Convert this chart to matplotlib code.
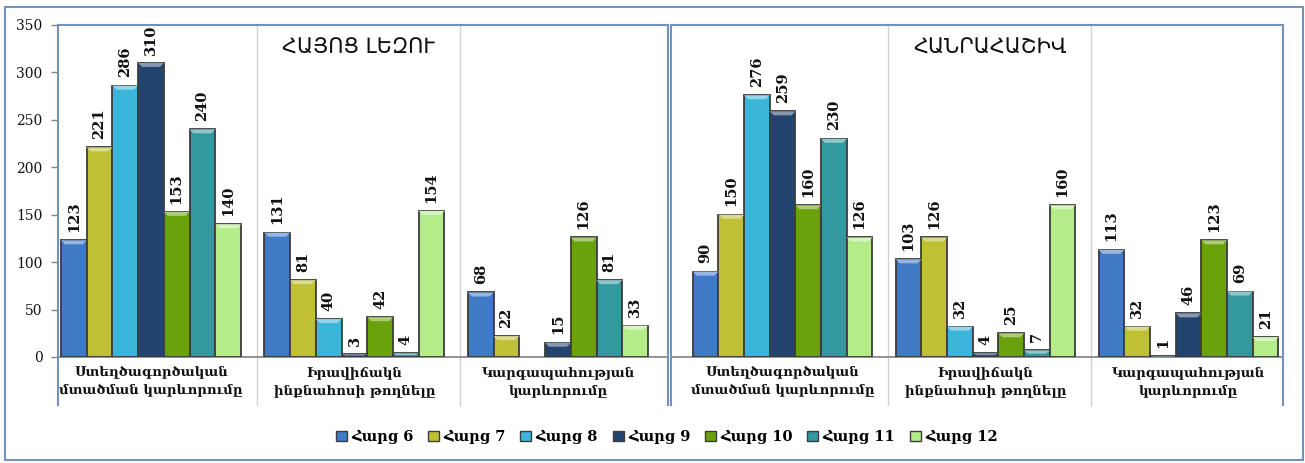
import numpy as np
import matplotlib
matplotlib.use("Agg")
import matplotlib.pyplot as plt
from matplotlib.patches import Rectangle, Polygon
from matplotlib.colors import to_rgb

W, H = 1305, 463

categories = ['Ստեղծագործական\nմտածման կարևորումը',
              'Իրավիճակն\nինքնահոսի թողնելը',
              'Կարգապահության\nկարևորումը']
series_names = ['Հարց 6', 'Հարց 7', 'Հարց 8', 'Հարց 9', 'Հարց 10', 'Հարց 11', 'Հարց 12']
colors = ['#4079c6', '#c0c034', '#3bb5da', '#22446f', '#6aa20c', '#33989f', '#b5ec8a']

panel_titles = ['ՀԱՅՈՑ ԼԵԶՈՒ', 'ՀԱՆՐԱՀԱՇԻՎ']

# Panel 1: ՀԱՅՈՑ ԼԵԶՈՒ
lang_q6 = [123, 131, 68]
lang_q7 = [221, 81, 22]
lang_q8 = [286, 40, np.nan]
lang_q9 = [310, 3, 15]
lang_q10 = [153, 42, 126]
lang_q11 = [240, 4, 81]
lang_q12 = [140, 154, 33]

# Panel 2: ՀԱՆՐԱՀԱՇԻՎ
math_q6 = [90, 103, 113]
math_q7 = [150, 126, 32]
math_q8 = [276, 32, 1]
math_q9 = [259, 4, 46]
math_q10 = [160, 25, 123]
math_q11 = [230, 7, 69]
math_q12 = [126, 160, 21]

yticks = [0, 50, 100, 150, 200, 250, 300, 350]

panels = [
    [lang_q6, lang_q7, lang_q8, lang_q9, lang_q10, lang_q11, lang_q12],
    [math_q6, math_q7, math_q8, math_q9, math_q10, math_q11, math_q12],
]


def lighten(c, f):
    r, g, b = to_rgb(c)
    return (r + (1 - r) * f, g + (1 - g) * f, b + (1 - b) * f)


fig = plt.figure(figsize=(W / 100, H / 100), dpi=100)
fig.patch.set_facecolor('white')

frame_col = '#7391bf'
serif = 'DejaVu Serif'

# axes pixel geometry
ax_specs = [(58, 668, -0.457, 2.541), (671, 1283, -0.55, 2.465)]
top_px, bot_px = 25, 357

n = len(series_names)
block = 0.885
bw = block / n

for p, (x0, x1, xl, xr) in enumerate(ax_specs):
    ax = fig.add_axes([x0 / W, (H - bot_px) / H, (x1 - x0) / W, (bot_px - top_px) / H])
    ax.set_xlim(xl, xr)
    ax.set_ylim(0, 350)
    # pixel -> data scale
    px_x = (xr - xl) / (x1 - x0)
    px_y = 350 / (bot_px - top_px)
    x = np.arange(len(categories))
    for i, (name, vals) in enumerate(zip(series_names, panels[p])):
        pos = x - block / 2 + bw * (i + 0.5)
        v = np.array(vals, dtype=float)
        ax.bar(pos, v, width=bw, color=colors[i], edgecolor='#3c3c3c',
               linewidth=1.3, label=name, zorder=3)
        for xx, vv in zip(pos, v):
            if np.isnan(vv):
                continue
            # bevel highlight at top of bar
            d = min(4 * px_y, vv * 0.5)
            dx = 4 * px_x
            if vv > 0:
                poly = Polygon([(xx - bw / 2, vv), (xx + bw / 2, vv),
                                (xx + bw / 2 - dx, vv - d), (xx - bw / 2 + dx, vv - d)],
                               closed=True, facecolor=lighten(colors[i], 0.45),
                               edgecolor='none', zorder=4)
                ax.add_patch(poly)
            ax.annotate(f'{int(vv)}', (xx, vv), xytext=(0, 6), textcoords='offset points',
                        rotation=90, ha='center', va='bottom', fontsize=10.5,
                        fontweight='bold', family=serif, color='#111111',
                        annotation_clip=False, zorder=5)
    # group separators
    for s in [0.52, 1.52]:
        ax.plot([s, s], [350, -0.145 * 350], color='#d2d2d2', lw=1, clip_on=False, zorder=1)
    # side frame lines extended down
    for s in [xl, xr]:
        ax.plot([s, s], [350, -0.145 * 350], color=frame_col, lw=1.5, clip_on=False, zorder=6)
    for side in ['left', 'right']:
        ax.spines[side].set_visible(False)
    ax.spines['top'].set_color(frame_col)
    ax.spines['top'].set_linewidth(1.5)
    ax.spines['bottom'].set_color('#808080')
    ax.spines['bottom'].set_linewidth(1.2)
    ax.set_xticks([])
    # category labels
    for xx, lab in zip(x, categories):
        ax.text(xx, -10, lab, ha='center', va='top', fontsize=9.5, fontweight='bold',
                family=serif, linespacing=1.45, color='#111111')
    ax.text(1.02, 337, panel_titles[p], ha='center', va='top', fontsize=15,
            family='DejaVu Sans', color='#111111')
    if p == 0:
        ax.set_yticks(yticks)
        ax.tick_params(axis='y', length=5, width=1, color='#808080', pad=6,
                       labelsize=10, labelcolor='#111111')
        for t in ax.get_yticklabels():
            t.set_family(serif)
    else:
        ax.set_yticks([])
    ax.set_facecolor('white')

# outer frame
fig.add_artist(Rectangle((5 / W, 3 / H), 1298 / W, 453 / H, transform=fig.transFigure,
                         fill=False, edgecolor=frame_col, lw=1.5))

handles = [Rectangle((0, 0), 1, 1, facecolor=c, edgecolor='#3c3c3c', lw=1) for c in colors]
fig.legend(handles, series_names, loc='center', bbox_to_anchor=(667 / W, 1 - 437 / H),
           ncol=7, frameon=False, handlelength=0.75, handleheight=0.75, handletextpad=0.3,
           columnspacing=1.0, prop={'family': serif, 'weight': 'bold', 'size': 10.5})

fig.savefig('out.png', dpi=100)
